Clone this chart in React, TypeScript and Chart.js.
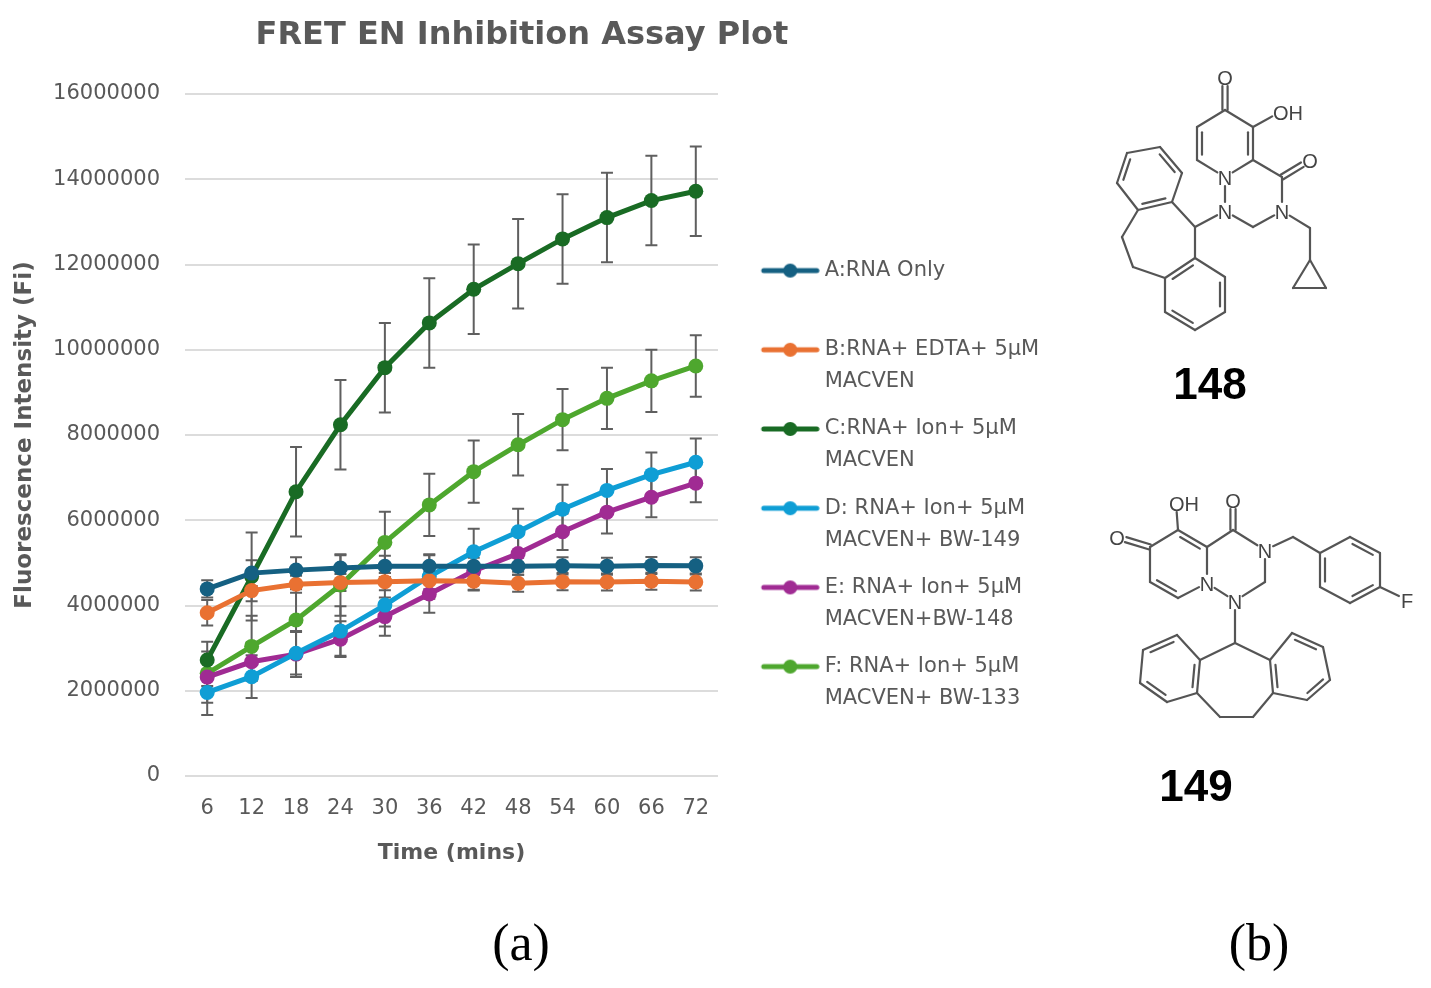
import React, { useEffect, useRef } from 'react';
import { Chart, registerables } from 'chart.js';

Chart.register(...registerables);

// ---------- data ----------
const TIMES = ['6', '12', '18', '24', '30', '36', '42', '48', '54', '60', '66', '72'];

const SERIES_A = [4390000, 4760000, 4830000, 4880000, 4920000, 4920000, 4920000, 4920000, 4930000, 4920000, 4940000, 4930000];
const SERIES_B = [3830000, 4350000, 4500000, 4540000, 4560000, 4580000, 4570000, 4520000, 4560000, 4550000, 4570000, 4550000];
const SERIES_C = [2720000, 4680000, 6670000, 8240000, 9580000, 10630000, 11420000, 12020000, 12600000, 13100000, 13500000, 13720000];
const SERIES_D = [1960000, 2330000, 2880000, 3400000, 4010000, 4680000, 5260000, 5730000, 6260000, 6700000, 7070000, 7360000];
const SERIES_E = [2320000, 2680000, 2860000, 3210000, 3740000, 4270000, 4810000, 5220000, 5730000, 6190000, 6540000, 6870000];
const SERIES_F = [2410000, 3040000, 3660000, 4480000, 5480000, 6360000, 7140000, 7770000, 8360000, 8860000, 9270000, 9620000];

const ERR_A = [200000, 300000, 300000, 300000, 250000, 260000, 200000, 200000, 200000, 200000, 200000, 200000];
const ERR_B = [300000, 250000, 200000, 200000, 200000, 200000, 220000, 200000, 200000, 200000, 200000, 200000];
const ERR_C = [430000, 1030000, 1050000, 1050000, 1050000, 1050000, 1050000, 1050000, 1050000, 1050000, 1050000, 1050000];
const ERR_D = [530000, 500000, 500000, 580000, 500000, 520000, 540000, 540000, 570000, 500000, 520000, 560000];
const ERR_E = [600000, 450000, 540000, 420000, 450000, 440000, 440000, 430000, 430000, 500000, 470000, 450000];
const ERR_F = [300000, 720000, 720000, 720000, 720000, 730000, 730000, 720000, 720000, 720000, 730000, 720000];

const LEGEND_LABELS: string[][] = [
  ['A:RNA Only', ''],
  ['B:RNA+ EDTA+ 5\u00b5M', 'MACVEN'],
  ['C:RNA+ Ion+ 5\u00b5M', 'MACVEN'],
  ['D: RNA+ Ion+ 5\u00b5M', 'MACVEN+ BW-149'],
  ['E: RNA+ Ion+ 5\u00b5M', 'MACVEN+BW-148'],
  ['F: RNA+ Ion+ 5\u00b5M', 'MACVEN+ BW-133'],
];

const SERIES = [SERIES_A, SERIES_B, SERIES_C, SERIES_D, SERIES_E, SERIES_F];
const ERRORS = [ERR_A, ERR_B, ERR_C, ERR_D, ERR_E, ERR_F];
const COLORS = ['#156082', '#E97132', '#196B24', '#0F9ED5', '#A02B93', '#4EA72E'];

const TITLE = 'FRET EN Inhibition Assay Plot';
const X_TITLE = 'Time (mins)';
const Y_TITLE = 'Fluorescence Intensity (Fi)';
const Y_MIN = 0;
const Y_MAX = 16000000;
const Y_STEP = 2000000;

const FONT = "'DejaVu Sans', sans-serif";
const TEXT_COLOR = '#595959';

// ---------- structures (panel b) ----------
type Pt = [number, number];
type Bond = [string, string, string, Pt?];

const PT148: Record<string, Pt> = {
  C4: [1225, 110], C3: [1253, 127], C2: [1253, 160], N1: [1225, 177], C6: [1197, 160], C5: [1197, 127],
  O1: [1225, 77], OH: [1280, 112],
  C7: [1282, 177], O2: [1310, 160], N3: [1282, 211], C8: [1253, 227], N2: [1225, 211],
  C9: [1310, 228], C10: [1310, 260], C11: [1293, 288], C12: [1326, 288],
  C13: [1195, 227],
  U0: [1127, 153], U1: [1160, 147], U2: [1182, 173], U3: [1172, 202], U4: [1138, 210], U5: [1117, 183],
  B1: [1122, 237], B2: [1133, 267],
  L0: [1195, 258], L1: [1225, 277], L2: [1225, 312], L3: [1195, 330], L4: [1165, 312], L5: [1165, 278],
};
const LBL148: Record<string, string> = { O1: 'O', OH: 'OH', N1: 'N', O2: 'O', N3: 'N', N2: 'N' };
const PY148: Pt = [1225, 143];
const UP148: Pt = [1149, 180];
const LO148: Pt = [1195, 294];
const BONDS148: Bond[] = [
  ['C4', 'C3', 's'], ['C3', 'C2', 'd', PY148], ['C2', 'N1', 's'], ['N1', 'C6', 's'], ['C6', 'C5', 'd', PY148], ['C5', 'C4', 's'],
  ['C4', 'O1', 'x'], ['C3', 'OH', 's'],
  ['C2', 'C7', 's'], ['C7', 'O2', 'x'], ['C7', 'N3', 's'], ['N3', 'C8', 's'], ['C8', 'N2', 's'], ['N2', 'N1', 's'],
  ['N3', 'C9', 's'], ['C9', 'C10', 's'], ['C10', 'C11', 's'], ['C10', 'C12', 's'], ['C11', 'C12', 's'],
  ['N2', 'C13', 's'], ['C13', 'U3', 's'], ['C13', 'L0', 's'],
  ['U0', 'U1', 's'], ['U1', 'U2', 'd', UP148], ['U2', 'U3', 's'], ['U3', 'U4', 'd', UP148], ['U4', 'U5', 's'], ['U5', 'U0', 'd', UP148],
  ['U4', 'B1', 's'], ['B1', 'B2', 's'], ['B2', 'L5', 's'],
  ['L0', 'L1', 's'], ['L1', 'L2', 'd', LO148], ['L2', 'L3', 's'], ['L3', 'L4', 'd', LO148], ['L4', 'L5', 's'], ['L5', 'L0', 'd', LO148],
];

const PT149: Record<string, Pt> = {
  O3: [1117, 537], Ca: [1150, 547], Cb: [1178, 530], OH: [1176, 503], Cc: [1207, 547], N1: [1207, 583], Cd: [1178, 598], Ce: [1150, 582],
  Cf: [1233, 530], O4: [1233, 500], N3: [1265, 550], Cg: [1265, 582], N2: [1235, 601],
  Ch: [1293, 537],
  P0: [1320, 553], P1: [1350, 537], P2: [1380, 553], P3: [1380, 587], P4: [1350, 603], P5: [1320, 587], F: [1407, 600],
  Ci: [1235, 643],
  A0: [1200, 660], A1: [1197, 693], A2: [1167, 702], A3: [1140, 683], A4: [1143, 650], A5: [1177, 635],
  D1: [1220, 717], D2: [1253, 717],
  R0: [1270, 660], R1: [1273, 693], R2: [1307, 700], R3: [1330, 680], R4: [1323, 647], R5: [1292, 633],
};
const LBL149: Record<string, string> = { O3: 'O', OH: 'OH', N1: 'N', O4: 'O', N3: 'N', N2: 'N', F: 'F' };
const PY149: Pt = [1178, 564];
const PH149: Pt = [1350, 570];
const LR149: Pt = [1170, 670];
const RR149: Pt = [1299, 669];
const BONDS149: Bond[] = [
  ['Ca', 'O3', 'x'], ['Ca', 'Cb', 's'], ['Cb', 'Cc', 'd', PY149], ['Cb', 'OH', 's'], ['Cc', 'N1', 's'], ['N1', 'Cd', 's'], ['Cd', 'Ce', 'd', PY149], ['Ce', 'Ca', 's'],
  ['Cc', 'Cf', 's'], ['Cf', 'O4', 'x'], ['Cf', 'N3', 's'], ['N3', 'Cg', 's'], ['Cg', 'N2', 's'], ['N2', 'N1', 's'],
  ['N3', 'Ch', 's'], ['Ch', 'P0', 's'],
  ['P0', 'P1', 's'], ['P1', 'P2', 'd', PH149], ['P2', 'P3', 's'], ['P3', 'P4', 'd', PH149], ['P4', 'P5', 's'], ['P5', 'P0', 'd', PH149], ['P3', 'F', 's'],
  ['N2', 'Ci', 's'], ['Ci', 'A0', 's'], ['Ci', 'R0', 's'],
  ['A0', 'A1', 'd', LR149], ['A1', 'A2', 's'], ['A2', 'A3', 'd', LR149], ['A3', 'A4', 's'], ['A4', 'A5', 'd', LR149], ['A5', 'A0', 's'],
  ['A1', 'D1', 's'], ['D1', 'D2', 's'], ['D2', 'R1', 's'],
  ['R0', 'R1', 'd', RR149], ['R1', 'R2', 's'], ['R2', 'R3', 'd', RR149], ['R3', 'R4', 's'], ['R4', 'R5', 'd', RR149], ['R5', 'R0', 's'],
];

function Molecule(props: { pts: Record<string, Pt>; labels: Record<string, string>; bonds: Bond[] }) {
  const { pts, labels, bonds } = props;
  const segs: number[][] = [];
  bonds.forEach(([a, b, kind, c]) => {
    const [x1, y1] = pts[a];
    const [x2, y2] = pts[b];
    const dx = x2 - x1, dy = y2 - y1;
    const len = Math.hypot(dx, dy);
    const ux = dx / len, uy = dy / len;
    const s1 = labels[a] ? 9 : 0;
    const s2 = labels[b] ? 9 : 0;
    const ax = x1 + ux * s1, ay = y1 + uy * s1, bx = x2 - ux * s2, by = y2 - uy * s2;
    if (kind === 'x') {
      const nx = -uy * 2.6, ny = ux * 2.6;
      segs.push([ax + nx, ay + ny, bx + nx, by + ny]);
      segs.push([ax - nx, ay - ny, bx - nx, by - ny]);
    } else {
      segs.push([ax, ay, bx, by]);
      if (kind === 'd' && c) {
        let nx = -uy, ny = ux;
        const mx = (x1 + x2) / 2, my = (y1 + y2) / 2;
        if ((c[0] - mx) * nx + (c[1] - my) * ny < 0) { nx = -nx; ny = -ny; }
        const off = 5, sh = len * 0.16;
        segs.push([x1 + ux * sh + nx * off, y1 + uy * sh + ny * off, x2 - ux * sh + nx * off, y2 - uy * sh + ny * off]);
      }
    }
  });
  return (
    <g>
      {segs.map((s, i) => (
        <line key={i} x1={s[0]} y1={s[1]} x2={s[2]} y2={s[3]} stroke="#555" strokeWidth={2.2} strokeLinecap="round" />
      ))}
      {Object.keys(labels).map((k) => {
        const [x, y] = pts[k];
        const t = labels[k];
        const isOH = t === 'OH';
        return (
          <text key={k} x={isOH ? x - 7 : x} y={y + 1} fill="#444" fontSize={20}
            fontFamily="'Liberation Sans', Arial, sans-serif" textAnchor={isOH ? 'start' : 'middle'} dominantBaseline="central">{t}</text>
        );
      })}
    </g>
  );
}

function makeSwatch(color: string): HTMLCanvasElement {
  const c = document.createElement('canvas');
  c.width = 92;
  c.height = 18;
  const g = c.getContext('2d')!;
  g.strokeStyle = color;
  g.lineWidth = 5;
  g.lineCap = 'round';
  g.beginPath();
  g.moveTo(36, 9);
  g.lineTo(89, 9);
  g.stroke();
  g.fillStyle = color;
  g.beginPath();
  g.arc(62.5, 9, 7, 0, Math.PI * 2);
  g.fill();
  return c;
}

const errorBarPlugin = {
  id: 'errorBars',
  beforeDatasetsDraw(chart: any) {
    const ctx = chart.ctx;
    const y = chart.scales.y;
    ctx.save();
    ctx.strokeStyle = '#5f5f5f';
    ctx.lineWidth = 2;
    chart.data.datasets.forEach((ds: any, i: number) => {
      const meta = chart.getDatasetMeta(i);
      const errs = ERRORS[i];
      meta.data.forEach((pt: any, j: number) => {
        const v = ds.data[j];
        const e = errs[j];
        const yt = y.getPixelForValue(v + e);
        const yb = y.getPixelForValue(v - e);
        const x = pt.x;
        ctx.beginPath();
        ctx.moveTo(x, yt);
        ctx.lineTo(x, yb);
        ctx.moveTo(x - 6, yt);
        ctx.lineTo(x + 6, yt);
        ctx.moveTo(x - 6, yb);
        ctx.lineTo(x + 6, yb);
        ctx.stroke();
      });
    });
    ctx.restore();
  },
};

function LineChart() {
  const ref = useRef<HTMLCanvasElement | null>(null);
  useEffect(() => {
    if (!ref.current) return;
    const swatches = COLORS.map(makeSwatch);
    const chart = new Chart(ref.current, {
      type: 'line',
      data: {
        labels: TIMES,
        datasets: SERIES.map((s, i) => ({
          label: LEGEND_LABELS[i].join(' '),
          data: s,
          borderColor: COLORS[i],
          backgroundColor: COLORS[i],
          pointBackgroundColor: COLORS[i],
          pointBorderWidth: 0,
          pointRadius: 7.5,
          pointHoverRadius: 7.5,
          borderWidth: 5,
          tension: 0,
          fill: false,
        })),
      },
      options: {
        responsive: false,
        animation: false,
        maintainAspectRatio: false,
        layout: { padding: 0 },
        plugins: {
          title: {
            display: true,
            text: TITLE,
            color: TEXT_COLOR,
            font: { family: FONT, size: 32, weight: 'bold', lineHeight: 1.2 },
            padding: { top: 16, bottom: 39.6 },
          },
          legend: {
            position: 'right',
            align: 'start',
            maxWidth: 326,
            title: { display: true, text: '', font: { size: 12, lineHeight: 1.2 }, padding: { top: 230.5, bottom: 0 } },
            labels: {
              usePointStyle: true,
              pointStyleWidth: 81,
              padding: 15.2,
              color: TEXT_COLOR,
              font: { family: FONT, size: 21, lineHeight: 32 / 21 },
              generateLabels: () =>
                LEGEND_LABELS.map((t, i) => ({
                  text: t as any,
                  fillStyle: COLORS[i],
                  strokeStyle: COLORS[i],
                  lineWidth: 0,
                  pointStyle: swatches[i] as any,
                  hidden: false,
                  datasetIndex: i,
                  fontColor: TEXT_COLOR,
                })) as any,
            },
          },
          tooltip: { enabled: false },
        },
        scales: {
          x: {
            type: 'category',
            offset: true,
            grid: { display: false, drawTicks: false },
            border: { display: false },
            ticks: { color: TEXT_COLOR, font: { family: FONT, size: 21, lineHeight: 1.2 }, padding: 20, maxRotation: 0 },
            title: {
              display: true,
              text: X_TITLE,
              color: TEXT_COLOR,
              font: { family: FONT, size: 22, weight: 'bold', lineHeight: 1.2 },
              padding: { top: 0, bottom: 14 },
            },
            afterFit: (s: any) => { s.height = 104; },
          },
          y: {
            min: Y_MIN,
            max: Y_MAX,
            grid: { color: '#dcdcdc', lineWidth: 2, drawTicks: false },
            border: { display: false },
            ticks: {
              stepSize: Y_STEP,
              color: TEXT_COLOR,
              font: { family: FONT, size: 21, lineHeight: 1.2 },
              padding: 25,
              callback: (v: any) => String(v),
            },
            title: {
              display: true,
              text: Y_TITLE,
              color: TEXT_COLOR,
              font: { family: FONT, size: 23, weight: 'bold', lineHeight: 1.2 },
              padding: { top: 11, bottom: 0 },
            },
            afterFit: (s: any) => { s.width = 185; },
          },
        },
      } as any,
      plugins: [errorBarPlugin],
    });
    return () => chart.destroy();
  }, []);
  return <canvas ref={ref} width={1044} height={880} style={{ position: 'absolute', left: 0, top: 0, width: 1044, height: 880 }} />;
}

export default function App() {
  return (
    <div style={{ position: 'absolute', left: 0, top: 0, width: 1431, height: 988, background: '#fff', overflow: 'hidden' }}>
      <LineChart />
      <svg width={1431} height={988} style={{ position: 'absolute', left: 0, top: 0, pointerEvents: 'none' }}>
        <Molecule pts={PT148} labels={LBL148} bonds={BONDS148} />
        <Molecule pts={PT149} labels={LBL149} bonds={BONDS149} />
        <text x={1210} y={383} fontSize={44} fontWeight="bold" fontFamily="'Liberation Sans', Arial, sans-serif" textAnchor="middle" dominantBaseline="central" fill="#000">148</text>
        <text x={1196} y={785} fontSize={44} fontWeight="bold" fontFamily="'Liberation Sans', Arial, sans-serif" textAnchor="middle" dominantBaseline="central" fill="#000">149</text>
      </svg>
      <div style={{ position: 'absolute', left: 471, top: 913, width: 100, textAlign: 'center', fontFamily: "'Liberation Serif', 'Times New Roman', serif", fontSize: 52, lineHeight: '60px', color: '#000' }}>(a)</div>
      <div style={{ position: 'absolute', left: 1209, top: 913, width: 100, textAlign: 'center', fontFamily: "'Liberation Serif', 'Times New Roman', serif", fontSize: 52, lineHeight: '60px', color: '#000' }}>(b)</div>
    </div>
  );
}
